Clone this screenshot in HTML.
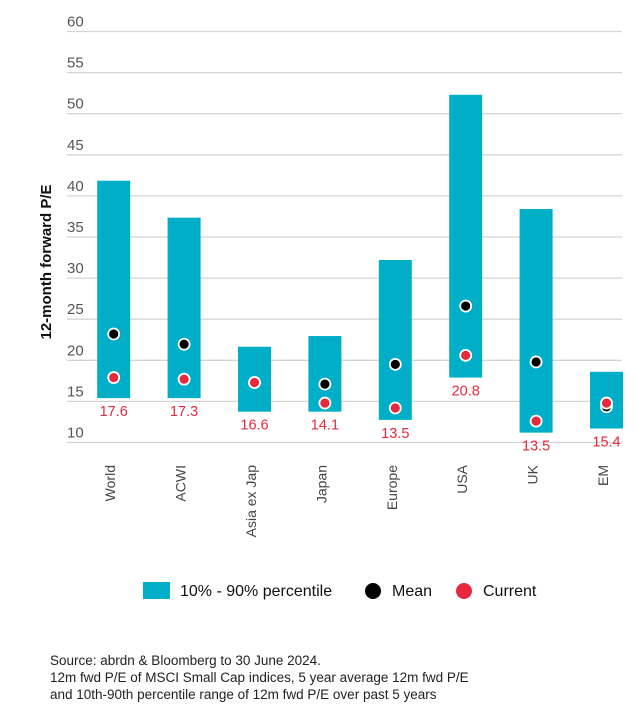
<!DOCTYPE html>
<html><head><meta charset="utf-8"><style>
body{margin:0;background:#fff;width:642px;height:716px;overflow:hidden;font-family:"Liberation Sans",sans-serif}
</style></head><body>
<svg id="chart" width="642" height="716" xmlns="http://www.w3.org/2000/svg">
<g id="grid"></g><g id="bars"></g><g id="dots"></g><g id="labels"></g>
<text transform="translate(51,262) rotate(-90)" text-anchor="middle" font-size="15" font-weight="bold" fill="#111">12-month forward P/E</text>
<g>
<rect x="143" y="582" width="27" height="17" fill="#00aec7"/>
<text x="180" y="596" font-size="16" fill="#111">10% - 90% percentile</text>
<circle cx="373" cy="591" r="8" fill="#000"/>
<text x="392" y="596" font-size="16" fill="#111">Mean</text>
<circle cx="464" cy="591" r="8" fill="#e8283c"/>
<text x="483" y="596" font-size="16" fill="#111">Current</text>
</g>
<g font-size="13.5" fill="#222">
<text x="50" y="665">Source: abrdn &amp; Bloomberg to 30 June 2024.</text>
<text x="50" y="682">12m fwd P/E of MSCI Small Cap indices, 5 year average 12m fwd P/E</text>
<text x="50" y="699">and 10th-90th percentile range of 12m fwd P/E over past 5 years</text>
</g>
</svg>
<script>
const categories=["World","ACWI","Asia ex Jap","Japan","Europe","USA","UK","EM"];
const rangeLow=[15.4,15.4,13.75,13.75,12.75,17.9,11.2,11.7];
const rangeHigh=[41.85,37.35,21.65,22.95,32.2,52.3,38.4,18.6];
const meanVals=[23.2,21.95,17.3,17.1,19.5,26.6,19.8,14.35];
const currentVals=[17.9,17.7,17.3,14.8,14.2,20.6,12.6,14.8];
const currentLabels=["17.6","17.3","16.6","14.1","13.5","20.8","13.5","15.4"];
const yTicks=[10,15,20,25,30,35,40,45,50,55,60];
const NS="http://www.w3.org/2000/svg";
const y=v=>442.5-(v-10)*8.22;
const xc=i=>113.7+i*70.4;
const bw=33;
function mk(tag,attrs,parent,txt){const e=document.createElementNS(NS,tag);for(const k in attrs)e.setAttribute(k,attrs[k]);if(txt!==undefined)e.textContent=txt;document.getElementById(parent).appendChild(e);return e;}
yTicks.forEach(t=>{
 const l=mk("line",{x1:67,x2:622,y1:y(t),y2:y(t),stroke:"#d4d4d4","stroke-width":1.3},"grid");
 
 
 const tx=mk("text",{x:67,y:y(t)-5,"font-size":15,fill:"#555"},"grid",String(t));
 
 
});
categories.forEach((c,i)=>{
 const r=mk("rect",{x:xc(i)-bw/2,y:y(rangeHigh[i]),width:bw,height:y(rangeLow[i])-y(rangeHigh[i]),fill:"#00aec7"},"bars");
 
 
 const m=mk("circle",{cx:xc(i),cy:y(meanVals[i]),r:5.5,fill:"#000",stroke:"#fff","stroke-width":1.8},"dots");
 
 
 const cu=mk("circle",{cx:xc(i),cy:y(currentVals[i]),r:5.5,fill:"#e8283c",stroke:"#fff","stroke-width":1.8},"dots");
 
 
 const lb=mk("text",{x:xc(i),y:y(rangeLow[i])+18,"text-anchor":"middle","font-size":14.5,fill:"#e8283c"},"labels",currentLabels[i]);
 
 
 const xl=mk("text",{transform:`translate(${xc(i)+1.5},465) rotate(-90)`,"text-anchor":"end","font-size":14,fill:"#444"},"labels",c);
 
 
});
</script>
</body></html>
